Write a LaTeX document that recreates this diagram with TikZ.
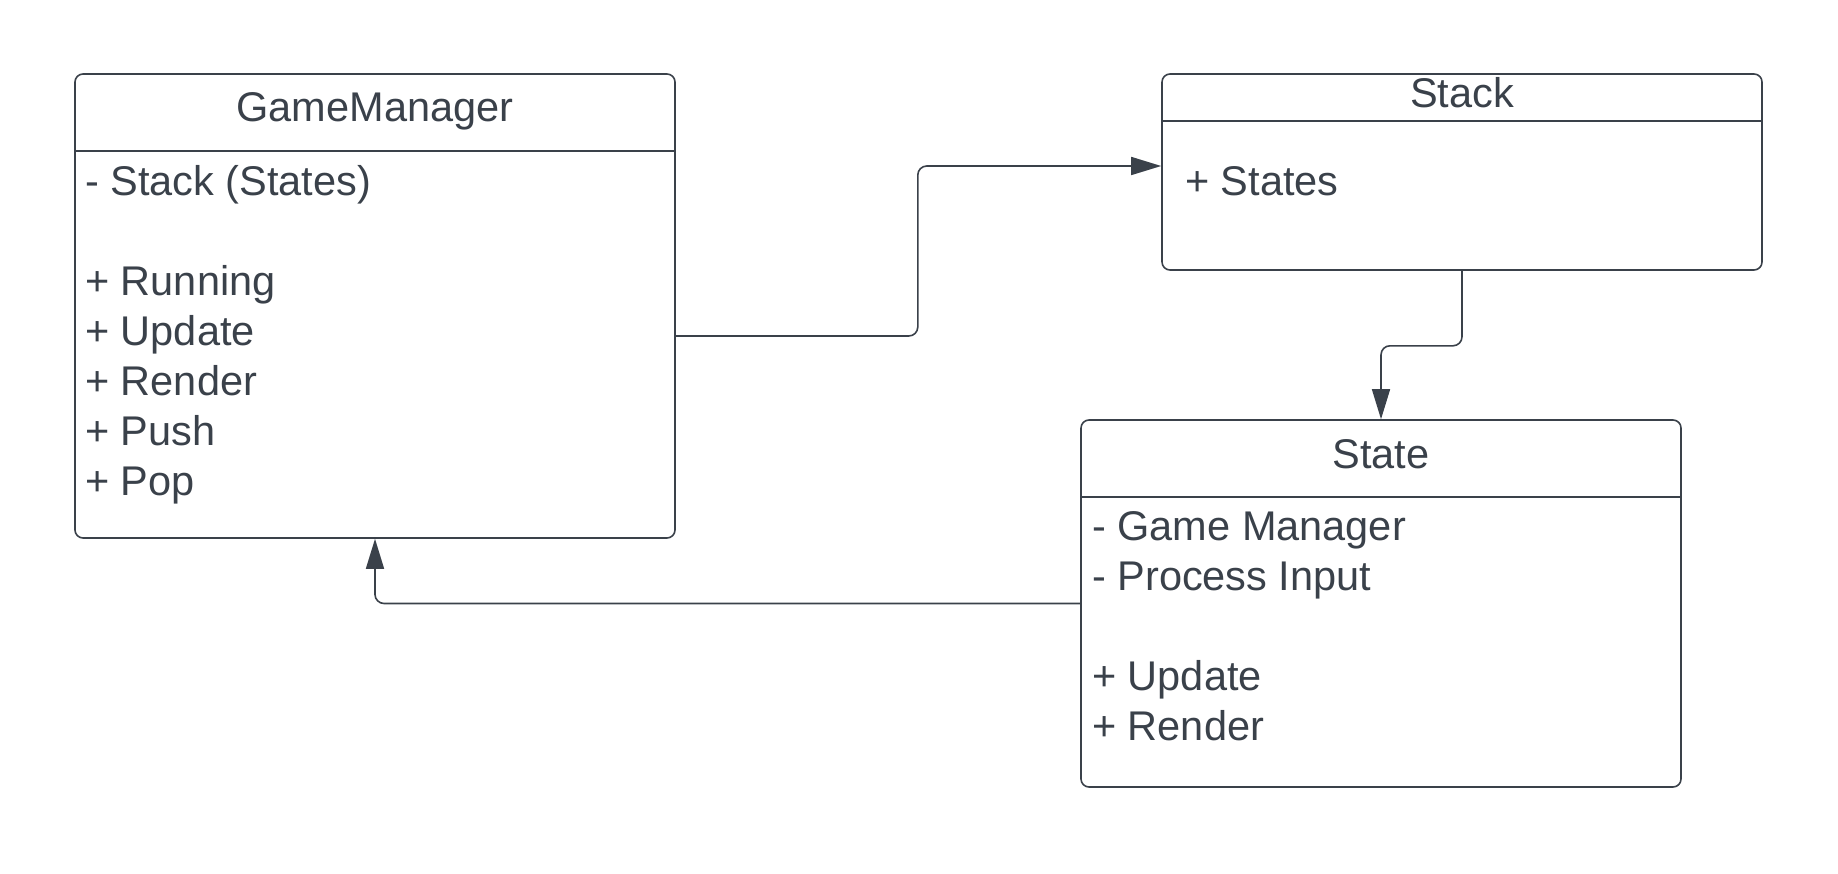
\documentclass[tikz,border=0pt]{standalone}
\usepackage{fontspec}
\setmainfont{Liberation Sans}
\usetikzlibrary{arrows.meta, positioning}
\definecolor{ink}{HTML}{3A414A}

\tikzset{
  classbox/.style={draw=ink, line width=1.6pt, rounded corners=8pt, minimum width=600pt, inner sep=0pt},
  classline/.style={draw=ink, line width=1.6pt},
  classtitle/.style={text=ink, font=\fontsize{41.5}{50}\selectfont, anchor=base, inner sep=0pt},
  members/.style={text=ink, font=\fontsize{41.5}{50}\selectfont, align=left, anchor=north west, inner sep=0pt},
  assoc/.style={draw=ink, line width=1.6pt, rounded corners=9pt, -{Triangle[length=30pt, width=18pt]}}
}

\begin{document}
\begin{tikzpicture}[x=1pt, y=-1pt]
  \useasboundingbox (0,0) rectangle (1838,874);

  % class boxes
  \node[classbox, minimum height=464pt] (gm) at (375,306) {};
  \node[classbox, minimum height=196pt] (stack) at (1462,172) {};
  \node[classbox, minimum height=367pt] (state) at (1381,603.5) {};

  \draw[classline] ([yshift=-78pt]gm.north west) -- ([yshift=-78pt]gm.north east);
  \draw[classline] ([yshift=-48pt]stack.north west) -- ([yshift=-48pt]stack.north east);
  \draw[classline] ([yshift=-78pt]state.north west) -- ([yshift=-78pt]state.north east);

  % titles
  \node[classtitle] (gmtitle) at (375,122) {GameManager};
  \node[classtitle] (stacktitle) at (1462,108) {Stack};
  \node[classtitle] (statetitle) at (1381,468) {State};

  % members
  \node[members] (gmmembers) at (85,160) {\strut- Stack (States)\\ \\+ Running\\+ Update\\+ Render\\+ Push\\+ Pop};
  \node[members] (stackmembers) at (1185,160) {\strut+ States};
  \node[members] (statemembers) at (1092,505) {\strut- Game Manager\\- Process Input\\ \\+ Update\\+ Render};

  % associations
  \draw[assoc] ([yshift=-30pt]gm.east) -- ++(242,0) |- ([yshift=6pt]stack.west);
  \draw[assoc] (stack.south) -- ++(0,75) -| (state.north);
  \draw[assoc] (state.west) -| (gm.south);
\end{tikzpicture}
\end{document}
